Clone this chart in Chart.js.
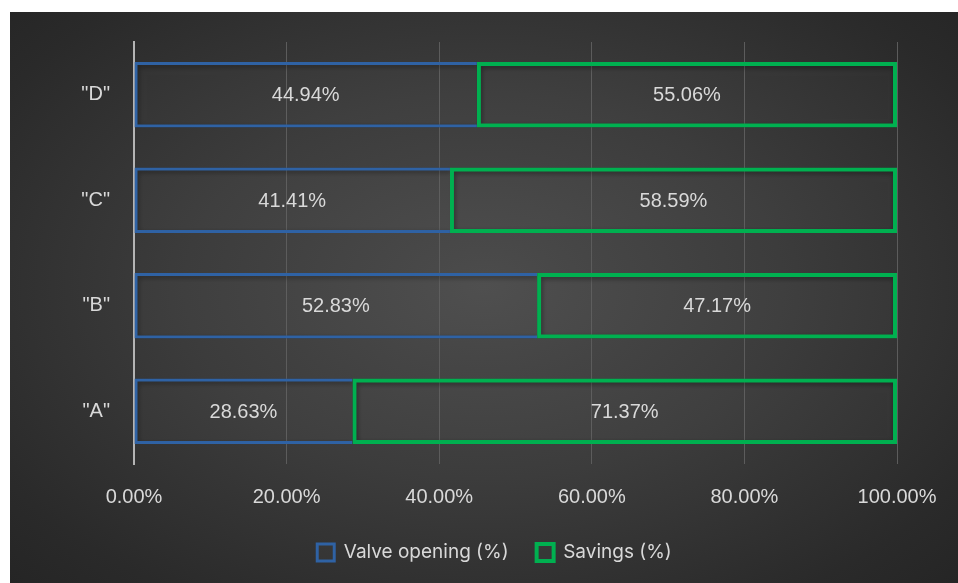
<!DOCTYPE html>
<html>
<head>
<meta charset="utf-8">
<script src="https://cdn.jsdelivr.net/npm/chart.js@4"></script>
<style>
  html, body { margin: 0; padding: 0; background: #ffffff; }
  #frame {
    position: absolute; left: 10px; top: 12px; width: 948px; height: 571px;
    background: radial-gradient(ellipse 70% 75% at 50% 48%, #4c4c4c 0%, #3c3c3c 45%, #2a2a2a 85%, #252525 100%);
  }
  canvas { display: block; }
</style>
</head>
<body>
<div id="frame"><canvas id="chart" width="948" height="571"></canvas></div>
<script>
// Valve opening vs. savings per scenario, shown as 100% stacked horizontal bars
const categories = ['"D"', '"C"', '"B"', '"A"'];
const valveOpening = [44.94, 41.41, 52.83, 28.63];
const savings = [55.06, 58.59, 47.17, 71.37];
const xTicks = [0, 20, 40, 60, 80, 100];

const textColor = '#d9d9d9';
const fontFamily = '"Liberation Sans", Arial, sans-serif';

// Percent labels centred in every bar segment
const valueLabels = {
  id: 'valueLabels',
  afterDatasetsDraw(chart) {
    const ctx = chart.ctx;
    ctx.save();
    ctx.fillStyle = textColor;
    ctx.font = '20px ' + fontFamily;
    ctx.textAlign = 'center';
    ctx.textBaseline = 'middle';
    chart.data.datasets.forEach((ds, di) => {
      chart.getDatasetMeta(di).data.forEach((el, i) => {
        const p = el.getCenterPoint();
        ctx.fillText(ds.data[i].toFixed(2) + '%', p.x, p.y + 1);
      });
    });
    ctx.restore();
  }
};

// Soft shadow behind the bar outlines
const barShadow = {
  id: 'barShadow',
  beforeDatasetsDraw(chart) {
    const ctx = chart.ctx;
    ctx.save();
    ctx.shadowColor = 'rgba(0,0,0,0.45)';
    ctx.shadowBlur = 5;
    ctx.shadowOffsetX = 1;
    ctx.shadowOffsetY = 2;
  },
  afterDatasetsDraw(chart) {
    chart.ctx.restore();
  }
};

// Centre the legend row across the full frame instead of the padded area
const legendShift = {
  id: 'legendShift',
  afterLayout(chart) {
    const lg = chart.legend;
    if (lg) { lg.left += 41; lg.right += 41; }
  }
};

new Chart(document.getElementById('chart'), {
  type: 'bar',
  data: {
    labels: categories,
    datasets: [
      {
        label: 'Valve opening (%)',
        data: valveOpening,
        backgroundColor: 'rgba(255,255,255,0.02)',
        borderColor: '#2f62a4',
        borderWidth: 3,
        borderSkipped: 'end'
      },
      {
        label: 'Savings (%)',
        data: savings,
        backgroundColor: 'rgba(255,255,255,0.02)',
        borderColor: '#00b050',
        borderWidth: 4,
        borderSkipped: false
      }
    ]
  },
  options: {
    indexAxis: 'y',
    responsive: false,
    animation: false,
    layout: { padding: { top: 30, right: 61, bottom: 11, left: 0 } },
    datasets: { bar: { categoryPercentage: 1, barPercentage: 0.62 } },
    scales: {
      x: {
        stacked: true,
        min: 0,
        max: 100,
        afterBuildTicks(scale) { scale.ticks = xTicks.map(v => ({ value: v })); },
        afterFit(scale) { scale.height = 51; },
        ticks: {
          color: textColor,
          font: { size: 20, family: fontFamily },
          padding: 21,
          callback: v => Number(v).toFixed(2) + '%'
        },
        grid: { color: '#5c5c5c', lineWidth: 1, drawTicks: false, tickLength: 0 },
        border: { display: false }
      },
      y: {
        stacked: true,
        afterFit(scale) {
          scale.width = 124;
          // keep the label gap from adding space above/below the plot
          scale.paddingTop = 0;
          scale.paddingBottom = 0;
        },
        ticks: {
          color: textColor,
          font: { size: 20, family: fontFamily },
          padding: 24
        },
        grid: { display: false, drawTicks: false },
        border: { display: true, color: '#b4b4b4', width: 2 }
      }
    },
    plugins: {
      legend: {
        position: 'bottom',
        labels: {
          color: textColor,
          font: { size: 19, family: 'Inter, "Open Sans", sans-serif' },
          boxWidth: 17,
          boxHeight: 17,
          padding: 28
        }
      },
      tooltip: { enabled: false }
    }
  },
  plugins: [barShadow, valueLabels, legendShift]
});
</script>
</body>
</html>
